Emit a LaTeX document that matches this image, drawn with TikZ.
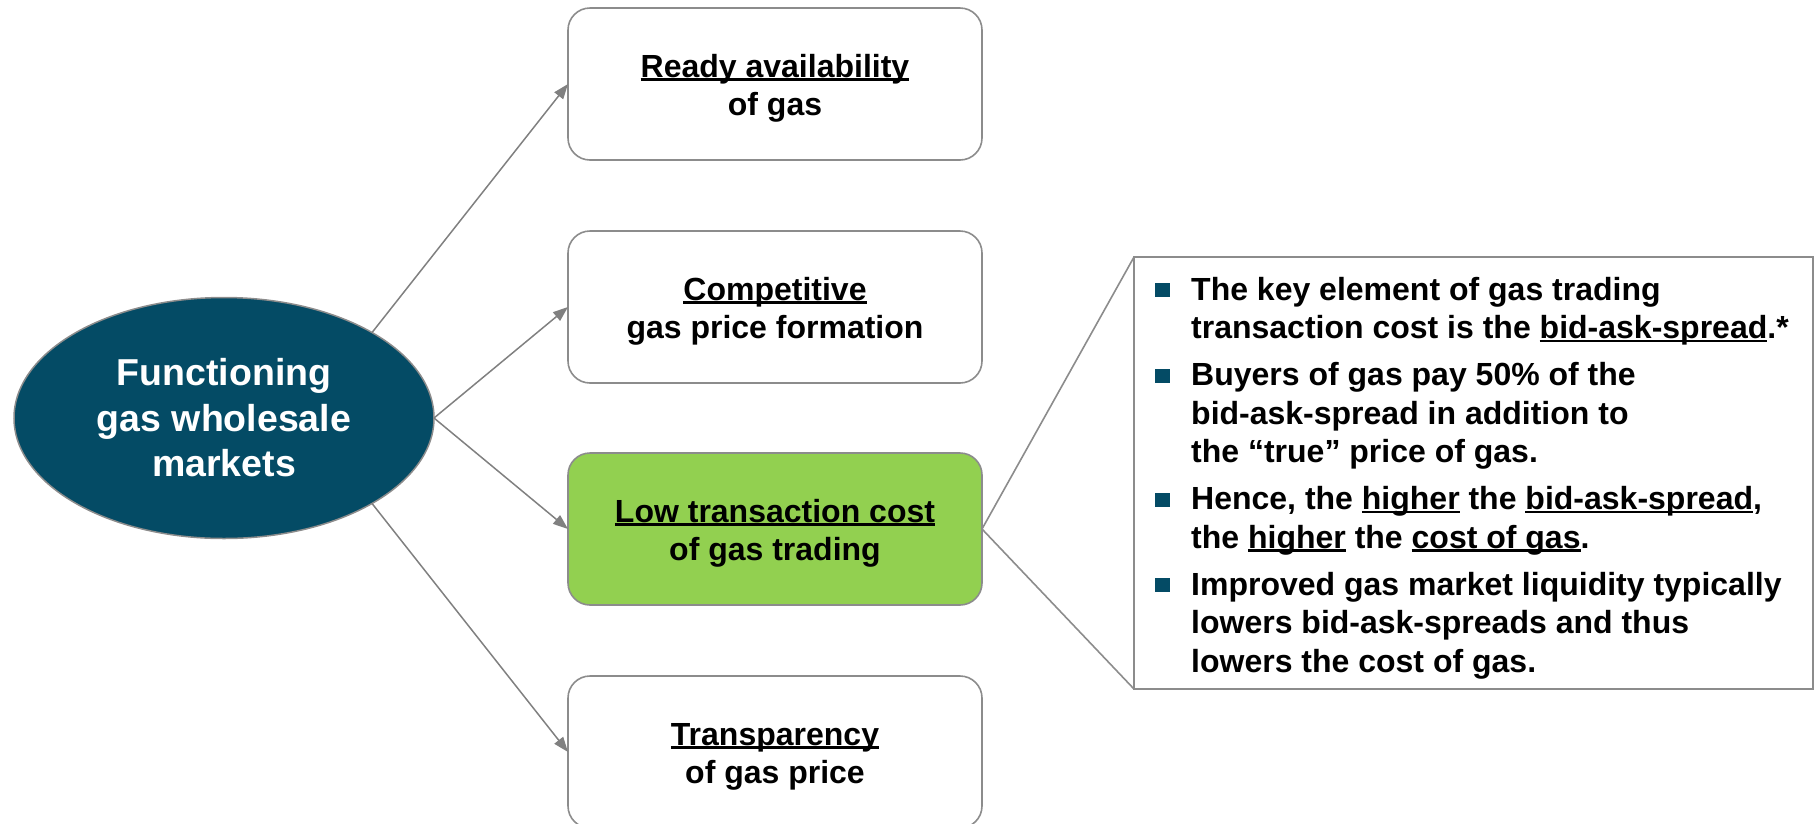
\documentclass[tikz,border=0pt]{standalone}
\usepackage{fontspec}
\setmainfont{Liberation Sans}
\usetikzlibrary{shapes.geometric,arrows.meta}
\definecolor{teal}{HTML}{044B65}
\definecolor{lgreen}{HTML}{92D050}
\definecolor{bordergray}{HTML}{8C8C8C}
\definecolor{arrowgray}{HTML}{808080}
\newcommand\myul[1]{\setbox0\hbox{#1}\rlap{\rule[-0.11em]{\wd0}{0.075em}}\box0\relax}
\newcommand\sqbul{\textcolor{teal}{\rule[3pt]{15pt}{14pt}}}
\newcommand\itm{\hangindent=36pt\hangafter=1\noindent\makebox[36pt][l]{\sqbul}}
\tikzset{
  box/.style={draw=bordergray, line width=1.6pt, fill=white, rounded corners=22pt,
    minimum width=414pt, minimum height=152pt, inner sep=0pt, outer sep=0pt,
    text height=69pt, text depth=7pt,
    align=center, font=\fontsize{32}{38}\selectfont\bfseries},
  conn/.style={draw=arrowgray, line width=1.5pt, -{Triangle[length=15pt,width=11pt]}},
  ptr/.style={draw=bordergray, line width=1.6pt},
}
\begin{document}
\begin{tikzpicture}[x=1pt,y=-1pt]
\useasboundingbox (0,0) rectangle (1815,823);
\node[ellipse, draw=bordergray, line width=1.5pt, fill=teal, text=white,
  minimum width=420pt, minimum height=241pt, inner sep=0pt, outer sep=0pt,
  align=center, font=\fontsize{37.5}{45.5}\selectfont\bfseries] (ell) at (224,418)
  {Functioning\\gas wholesale\\markets};
\node[box] (b1) at (775,84) {\myul{Ready availability}\\of gas};
\node[box] (b2) at (775,307) {\myul{Competitive}\\gas price formation};
\node[box, fill=lgreen] (b3) at (775,529) {\myul{Low transaction cost}\\of gas trading};
\node[box] (b4) at (775,752) {\myul{Transparency}\\of gas price};
\draw[conn] (ell.30) -- (b1.west);
\draw[conn] (ell.east) -- (b2.west);
\draw[conn] (ell.east) -- (b3.west);
\draw[conn] (ell.-30) -- (b4.west);
\node[draw=bordergray, line width=1.6pt, fill=white, minimum width=679pt, minimum height=432pt,
  inner sep=0pt, outer sep=0pt] (call) at (1473.5,473) {};
\draw[ptr] (b3.east) -- (call.north west);
\draw[ptr] (b3.east) -- (call.south west);
\node[anchor=base west, inner sep=0pt] (txt) at (1155,300) {%
\begin{minipage}[t]{650pt}%
\fontsize{32}{38.5}\selectfont\bfseries\setlength\parskip{8.5pt}\setlength\parindent{0pt}%
\itm The key element of gas trading\newline
transaction cost is the \myul{bid-ask-spread}.*\par
\itm Buyers of gas pay 50\% of the\newline
bid-ask-spread in addition to\newline
the “true” price of gas.\par
\itm Hence, the \myul{higher} the \myul{bid-ask-spread},\newline
the \myul{higher} the \myul{cost of gas}.\par
\itm Improved gas market liquidity typically\newline
lowers bid-ask-spreads and thus\newline
lowers the cost of gas.\par
\end{minipage}};
\end{tikzpicture}
\end{document}
